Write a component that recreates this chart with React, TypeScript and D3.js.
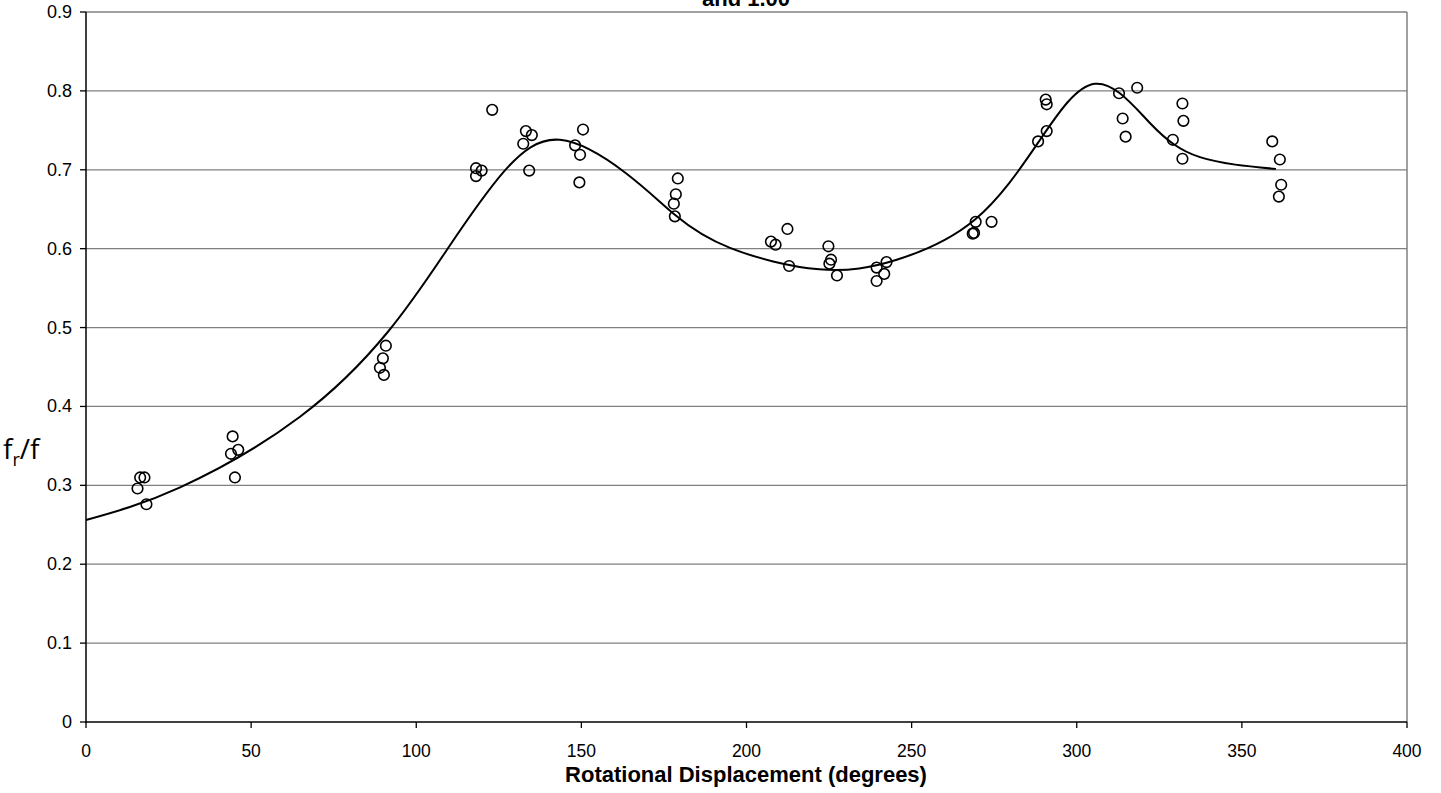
import React from "react";
import * as d3 from "d3";

const xTicks = [0, 50, 100, 150, 200, 250, 300, 350, 400];
const yTicks = [0, 0.1, 0.2, 0.3, 0.4, 0.5, 0.6, 0.7, 0.8, 0.9];

const pointX = [
  15.6, 16.4, 17.7, 18.3,
  44.4, 43.9, 46.1, 45.1,
  90.8, 89.9, 89.0, 90.2,
  118.1, 119.8, 118.1, 123.0, 133.2, 135.0, 132.4, 134.2, 148.1, 149.6, 150.5, 149.4,
  179.2, 178.6, 178.0, 178.3,
  207.4, 208.8, 212.4, 212.9, 224.8, 225.6, 225.1, 227.4, 239.4, 242.4, 241.7, 239.4,
  268.5, 268.9, 269.4, 274.2, 288.3, 290.9, 290.6, 290.9,
  312.8, 318.3, 313.9, 314.8, 332.0, 332.3, 329.1, 332.0,
  359.2, 361.5, 361.9, 361.2,
];
const pointY = [
  0.296, 0.31, 0.31, 0.276,
  0.362, 0.34, 0.345, 0.31,
  0.477, 0.461, 0.449, 0.44,
  0.702, 0.699, 0.692, 0.776, 0.749, 0.744, 0.733, 0.699, 0.731, 0.719, 0.751, 0.684,
  0.689, 0.669, 0.657, 0.641,
  0.609, 0.605, 0.625, 0.578, 0.603, 0.586, 0.581, 0.566, 0.576, 0.583, 0.568, 0.559,
  0.619, 0.62, 0.634, 0.634, 0.736, 0.749, 0.789, 0.783,
  0.797, 0.804, 0.765, 0.742, 0.784, 0.762, 0.738, 0.714,
  0.736, 0.713, 0.681, 0.666,
];

const curveX = [0, 28.5, 64.8, 91.5, 109.2, 126.4, 143.5, 163.7, 178.3, 195, 222, 245.5, 269.2, 288.4, 305.5, 322, 337.3, 360.3];
const curveY = [0.256, 0.2975, 0.387, 0.495, 0.598, 0.697, 0.738, 0.695, 0.643, 0.601, 0.5738, 0.586, 0.637, 0.735, 0.809, 0.76, 0.716, 0.701];

const left = 86, right = 1407, top = 12, bottom = 722;

export default function App() {
  const x = d3.scaleLinear().domain([0, 400]).range([left, right]);
  const y = d3.scaleLinear().domain([0, 0.9]).range([bottom, top]);
  const line = d3
    .line<number>()
    .x((_, i) => x(curveX[i]))
    .y((_, i) => y(curveY[i]))
    .curve(d3.curveNatural);
  const font = "'Liberation Sans', Arial, sans-serif";
  return (
    <svg width={1441} height={793} style={{ position: "absolute", left: 0, top: 0, background: "#fff" }}>
      <rect x={0} y={0} width={1441} height={793} fill="#fff" />
      <text x={746} y={6} textAnchor="middle" fontFamily={font} fontWeight="bold" fontSize={22}>and 1.00</text>
      {yTicks.map((t) => (
        <g key={"y" + t}>
          {t > 0 && (
            <line x1={left} x2={right} y1={y(t)} y2={y(t)} stroke="#808080" strokeWidth={1.3} />
          )}
          <line x1={left - 6} x2={left} y1={y(t)} y2={y(t)} stroke="#000" strokeWidth={1.3} />
          <text x={72} y={y(t) + 6} textAnchor="end" fontFamily={font} fontSize={18}>{t === 0 ? "0" : t.toFixed(1)}</text>
        </g>
      ))}
      <line x1={right} x2={right} y1={top} y2={bottom} stroke="#808080" strokeWidth={1.5} />
      {xTicks.map((t) => (
        <g key={"x" + t}>
          <line x1={x(t)} x2={x(t)} y1={bottom} y2={bottom + 6} stroke="#000" strokeWidth={1.3} />
          <text x={x(t)} y={bottom + 35} textAnchor="middle" fontFamily={font} fontSize={17.5}>{t}</text>
        </g>
      ))}
      <line x1={left} x2={left} y1={top} y2={bottom + 1} stroke="#000" strokeWidth={1.5} />
      <line x1={left} x2={right} y1={bottom} y2={bottom} stroke="#000" strokeWidth={1.5} />
      <path d={line(curveX) || ""} fill="none" stroke="#000" strokeWidth={2} />
      {pointX.map((px, i) => (
        <circle key={i} cx={x(px)} cy={y(pointY[i])} r={5.3} fill="none" stroke="#000" strokeWidth={1.6} />
      ))}
      <text x={746} y={782} textAnchor="middle" fontFamily={font} fontWeight="bold" fontSize={22}>Rotational Displacement (degrees)</text>
      <text x={3} y={459} fontFamily="'Open Sans', sans-serif" fontSize={28}>
        f<tspan fontSize={18} dy={7}>r</tspan><tspan dy={-7}>/f</tspan>
      </text>
    </svg>
  );
}
